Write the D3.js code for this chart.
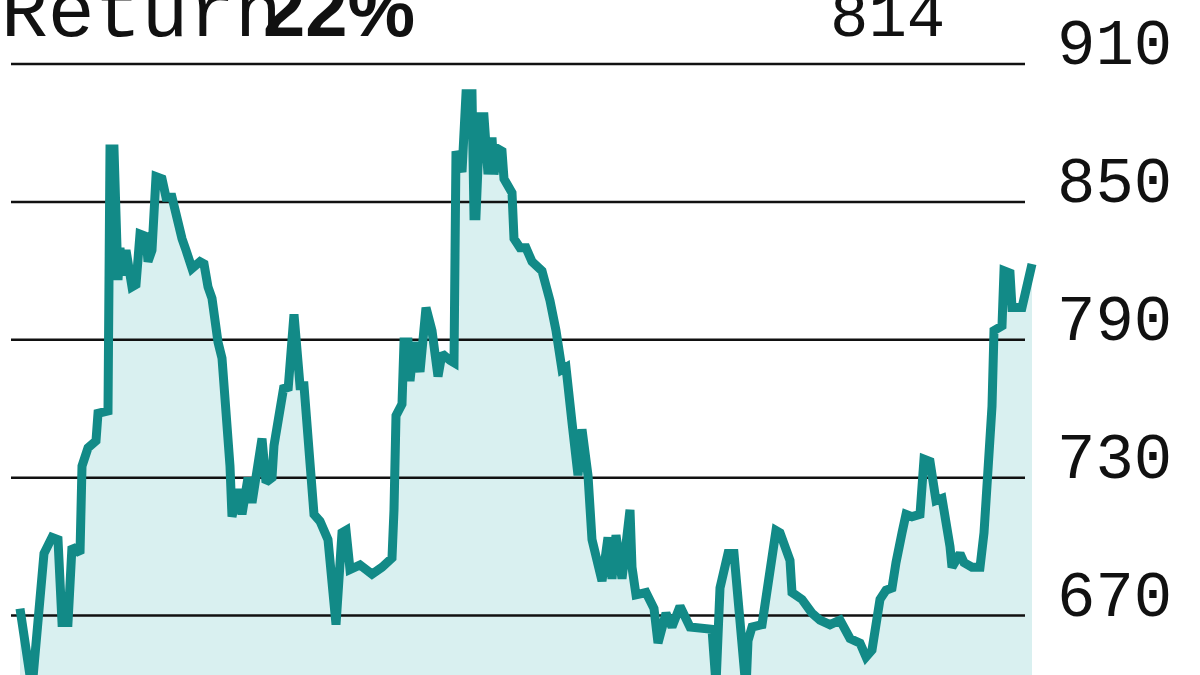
<!DOCTYPE html>
<html>
<head>
<meta charset="utf-8">
<script src="https://cdn.jsdelivr.net/npm/d3@7"></script>
<style>
  html, body { margin: 0; padding: 0; background: #ffffff; overflow: hidden; }
  svg { display: block; }
</style>
</head>
<body>
<svg id="chart" width="1200" height="675"></svg>
<script>
// ---- data ----
const titleLabel = "Return";
const returnValue = "22%";
const lastValue = "814";
const yTicks = [670, 730, 790, 850, 910];

const days = [
  0, 6, 12, 16, 19, 21, 24, 26, 30, 31, 34, 38, 39, 44, 45, 47, 49, 50, 51, 53,
  56, 58, 60, 63, 64, 66, 68, 71, 73, 76, 81, 83, 86, 90, 92, 94, 96, 99, 101, 105,
  106, 109, 111, 114, 116, 121, 123, 126, 127, 132, 134, 137, 140, 142, 147, 150, 154, 158, 161, 163,
  165, 170, 176, 181, 186, 187, 188, 191, 192, 194, 195, 197, 200, 203, 206, 209, 211, 215, 217, 218,
  221, 223, 226, 227, 228, 230, 232, 234, 236, 237, 239, 241, 242, 246, 247, 250, 253, 256, 261, 265,
  268, 271, 273, 276, 279, 281, 284, 286, 291, 294, 296, 298, 301, 305, 306, 308, 313, 317, 319, 323,
  326, 330, 335, 346, 348, 350, 354, 357, 363, 364, 366, 371, 378, 380, 385, 386, 391, 396, 400, 405,
  410, 415, 420, 423, 426, 430, 433, 436, 438, 441, 443, 446, 450, 452, 455, 458, 461, 465, 466, 470,
  472, 476, 480, 482, 486, 487, 491, 492, 495, 496, 501, 506
];
const values = [
  673, 638, 697, 704, 703, 667, 667, 700, 697, 735, 743, 746, 758, 759, 873, 873, 816, 830, 818, 829,
  813, 814, 836, 835, 824, 829, 861, 860, 852, 852, 834, 829, 821, 824, 823, 813, 808, 789, 782, 735,
  713, 725, 714, 730, 719, 747, 728, 730, 744, 770, 768, 801, 770, 770, 714, 711, 703, 666, 706, 707,
  690, 692, 688, 691, 695, 716, 757, 762, 789, 789, 772, 789, 776, 804, 794, 774, 784, 781, 780, 872,
  863, 897, 897, 844, 844, 887, 887, 862, 878, 862, 873, 872, 860, 854, 834, 830, 830, 824, 820, 807,
  794, 777, 778, 754, 731, 751, 731, 703, 685, 704, 686, 705, 686, 716, 691, 679, 680, 673, 658, 671,
  665, 674, 665, 664, 640, 682, 697, 697, 638, 659, 665, 666, 707, 706, 694, 680, 677, 671, 668, 666,
  668, 660, 658, 652, 655, 677, 681, 682, 693, 706, 714, 713, 714, 738, 737, 720, 721, 700, 691, 697,
  693, 691, 691, 706, 761, 794, 796, 820, 819, 804, 804, 823
];

// ---- drawing ----
const W = 1200, H = 675;
const svg = d3.select("#chart");

const series = days.map((d, i) => ({ day: d, value: values[i] }));

const x = d3.scaleLinear().domain([0, 506]).range([20, 1032]);
const y = d3.scaleLinear().domain([670, 910]).range([615.5, 64]);

const gridX0 = 11, gridX1 = 1025;

// area fill
const area = d3.area()
  .x(d => x(d.day))
  .y0(H + 20)
  .y1(d => y(d.value));
svg.append("path")
  .datum(series)
  .attr("d", area)
  .attr("fill", "#d9f0f0");

// gridlines
svg.append("g")
  .selectAll("line")
  .data(yTicks)
  .join("line")
  .attr("x1", gridX0)
  .attr("x2", gridX1)
  .attr("y1", d => y(d))
  .attr("y2", d => y(d))
  .attr("stroke", "#111")
  .attr("stroke-width", 2.5);

// y labels on the right
svg.append("g")
  .selectAll("text")
  .data(yTicks)
  .join("text")
  .attr("x", 1057)
  .attr("y", d => y(d))
  .attr("font-family", "'Liberation Mono', 'Courier New', monospace")
  .attr("font-size", 64)
  .attr("fill", "#111")
  .text(d => d);

// the line
const line = d3.line()
  .x(d => x(d.day))
  .y(d => y(d.value));
svg.append("path")
  .datum(series)
  .attr("d", line)
  .attr("fill", "none")
  .attr("stroke", "#128a87")
  .attr("stroke-width", 9)
  .attr("stroke-linejoin", "miter")
  .attr("stroke-miterlimit", 2);

// header texts
svg.append("text")
  .attr("x", 1)
  .attr("y", 36)
  .attr("font-family", "'Liberation Mono', 'Courier New', monospace")
  .attr("font-size", 78)
  .attr("fill", "#111")
  .text(titleLabel);

svg.append("text")
  .attr("x", 263)
  .attr("y", 36)
  .attr("font-family", "'Liberation Sans', Arial, sans-serif")
  .attr("font-weight", "bold")
  .attr("font-size", 76)
  .attr("fill", "#111")
  .text(returnValue);

svg.append("text")
  .attr("x", 830)
  .attr("y", 36)
  .attr("font-family", "'Liberation Mono', 'Courier New', monospace")
  .attr("font-size", 64)
  .attr("fill", "#111")
  .text(lastValue);
</script>
</body>
</html>
